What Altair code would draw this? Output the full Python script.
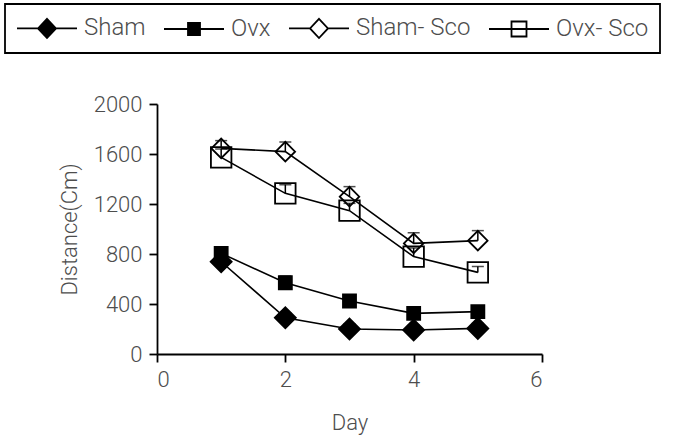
import altair as alt
import pandas as pd

days = [1, 2, 3, 4, 5]
groups = ["Sham", "Ovx", "Sham- Sco", "Ovx- Sco"]
sham = [738, 290, 200, 192, 205]
sham_up = [790, 330, 240, 230, 245]
ovx = [805, 570, 424, 325, 339]
ovx_up = [850, 624, 467, 379, 379]
sham_sco = [1645, 1619, 1259, 885, 907]
sham_sco_up = [1707, 1696, 1339, 971, 987]
ovx_sco = [1573, 1285, 1147, 779, 653]
ovx_sco_up = [1640, 1355, 1205, 848, 700]

x_ticks = [0, 2, 4, 6]
y_ticks = [0, 400, 800, 1200, 1600, 2000]

means = [sham, ovx, sham_sco, ovx_sco]
uppers = [sham_up, ovx_up, sham_sco_up, ovx_sco_up]
rows = []
for g, m, u in zip(groups, means, uppers):
    for d, mv, uv in zip(days, m, u):
        rows.append({"day": d, "group": g, "mean": mv, "upper": uv})
df = pd.DataFrame(rows)

FONT = "Roboto"
TXT = "#4d4d4d"

x = alt.X("day:Q", scale=alt.Scale(domain=[0, 6], nice=False),
          axis=alt.Axis(values=x_ticks, title="Day", format="d"))
y = alt.Y("mean:Q", scale=alt.Scale(domain=[0, 2000], nice=False),
          axis=alt.Axis(values=y_ticks, title="Distance(Cm)", format="d"))

base = alt.Chart(df)

lines = base.mark_line(color="black", strokeWidth=1.6).encode(x=x, y=y, detail="group:N")

marker_styles = {
    "Sham": dict(shape="diamond", filled=True, fill="black", size=440),
    "Ovx": dict(shape="square", filled=True, fill="black", size=170),
    "Sham- Sco": dict(shape="diamond", filled=False, size=380),
    "Ovx- Sco": dict(shape="square", filled=False, size=420),
}
point_layers = []
for g in groups:
    st = marker_styles[g]
    point_layers.append(
        base.transform_filter(alt.datum.group == g)
        .mark_point(stroke="black", strokeWidth=1.8, opacity=1, **st)
        .encode(x=x, y=y)
    )

err = base.mark_rule(color="black", strokeWidth=1.5).encode(x=x, y="mean:Q", y2="upper:Q")
caps = base.mark_tick(orient="horizontal", color="black", size=12, thickness=1.5).encode(x=x, y="upper:Q")

legend_paths = [
    "M-1,0H0.75M2.25,0H4M1.5,-0.8L2.25,0L1.5,0.8L0.75,0Z",
    "M-1,0H1M2,0H4M1,-0.5H2V0.5H1Z",
    "M-1,0H0.75M2.25,0H4M1.5,-0.8L2.25,0L1.5,0.8L0.75,0Z",
    "M-1,0H4M0.875,-0.625H2.125V0.625H0.875Z",
]
leg = alt.Legend(
    title=None, orient="none", legendX=-152, legendY=-100, direction="horizontal", columns=4,
    strokeColor="black", padding=11, symbolSize=576, symbolStrokeWidth=1.8,
    labelFontSize=24, labelFont=FONT, labelColor=TXT, labelFontWeight=300, labelOffset=42, columnPadding=14,
    symbolOpacity=1,
)
legend_layer = base.mark_point(filled=True, size=0, strokeWidth=1.8).encode(
    x=x, y=y,
    shape=alt.Shape("group:N", scale=alt.Scale(domain=groups, range=legend_paths), legend=leg),
    fill=alt.Fill("group:N", scale=alt.Scale(domain=groups, range=["black", "black", "white", "white"]), legend=leg),
    stroke=alt.Stroke("group:N", scale=alt.Scale(domain=groups, range=["black", "black", "black", "black"]), legend=leg),
)

chart = alt.layer(lines, *point_layers, err, caps, legend_layer).properties(
    width=385, height=250,
    padding={"left": 157, "top": 104, "right": 138, "bottom": 82},
    autosize=alt.AutoSizeParams(type="none"),
).configure_view(stroke=None).configure_axis(
    grid=False, domainColor="black", domainWidth=1.8, tickColor="black", tickWidth=1.8, tickSize=8,
    labelFont=FONT, labelFontSize=22, labelColor=TXT, labelFontWeight=300, labelPadding=7,
    titleFont=FONT, titleFontSize=22, titleColor=TXT, titleFontWeight=300,
).configure_axisY(titlePadding=12).configure_axisX(titlePadding=22).configure_legend(strokeWidth=1.8)

chart.save("out.html", embed_options={"renderer": "svg", "actions": False})
